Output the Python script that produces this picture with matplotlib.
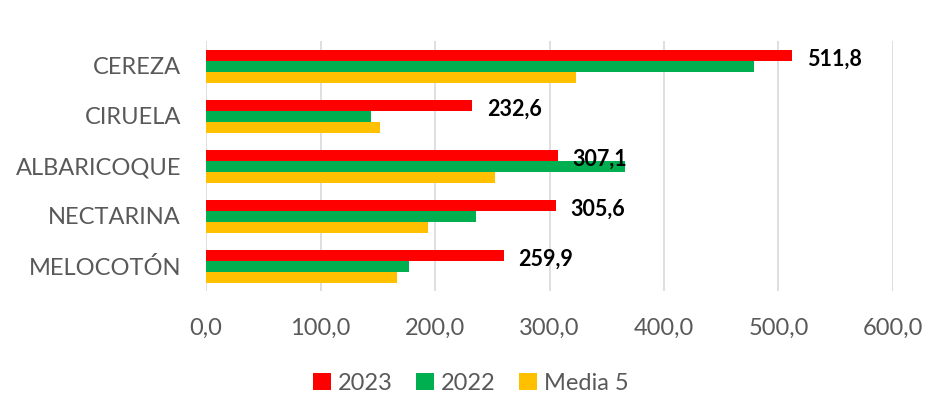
import numpy as np
import matplotlib.pyplot as plt

# data
categories = ['CEREZA', 'CIRUELA', 'ALBARICOQUE', 'NECTARINA', 'MELOCOTÓN']
values_2023 = [511.8, 232.6, 307.1, 305.6, 259.9]
values_2022 = [478.5, 144.5, 366.0, 236.0, 177.0]
values_media5 = [323.0, 151.6, 252.7, 193.7, 167.0]
labels_2023 = ['511,8', '232,6', '307,1', '305,6', '259,9']
x_ticks = [0, 100, 200, 300, 400, 500, 600]
x_tick_labels = ['0,0', '100,0', '200,0', '300,0', '400,0', '500,0', '600,0']

plt.rcParams['font.family'] = ['Lato', 'DejaVu Sans']

fig = plt.figure(figsize=(9.42, 4.04), dpi=100)
ax = fig.add_axes([206 / 942, 1 - 291 / 404, 687 / 942, 250 / 404])

y = np.arange(len(categories))
h = 0.22

ax.barh(y - h, values_2023, height=h, color='#ff0000', label='2023', zorder=3)
ax.barh(y, values_2022, height=h, color='#00b050', label='2022', zorder=3)
ax.barh(y + h, values_media5, height=h, color='#ffc000', label='Media 5', zorder=3)

# value labels for 2023
for i, v in enumerate(values_2023):
    ax.text(v + 13, y[i] - h + 0.08, labels_2023[i], va='center', ha='left',
            fontsize=15.5, fontweight='bold', color='black', zorder=4)

ax.set_ylim(len(categories) - 0.5, -0.5)
ax.set_xlim(0, 600)
ax.set_yticks(y)
ax.set_yticklabels(categories, fontsize=17, color='#595959')
ax.set_xticks(x_ticks)
ax.set_xticklabels(x_tick_labels, fontsize=17, color='#595959')
ax.tick_params(axis='both', length=0)
ax.tick_params(axis='y', pad=18)
ax.tick_params(axis='x', pad=19)
ax.grid(axis='x', color='#d9d9d9', linewidth=1.2, zorder=0)
for s in ax.spines.values():
    s.set_visible(False)

handles, labels = ax.get_legend_handles_labels()
fig.legend(handles, labels, loc='center', bbox_to_anchor=(0.5, 1 - 383 / 404),
           ncol=3, frameon=False, fontsize=17, handlelength=0.75, handleheight=0.75,
           handletextpad=0.3, columnspacing=1.0, labelcolor='#595959')

fig.savefig('out.png', dpi=100)
